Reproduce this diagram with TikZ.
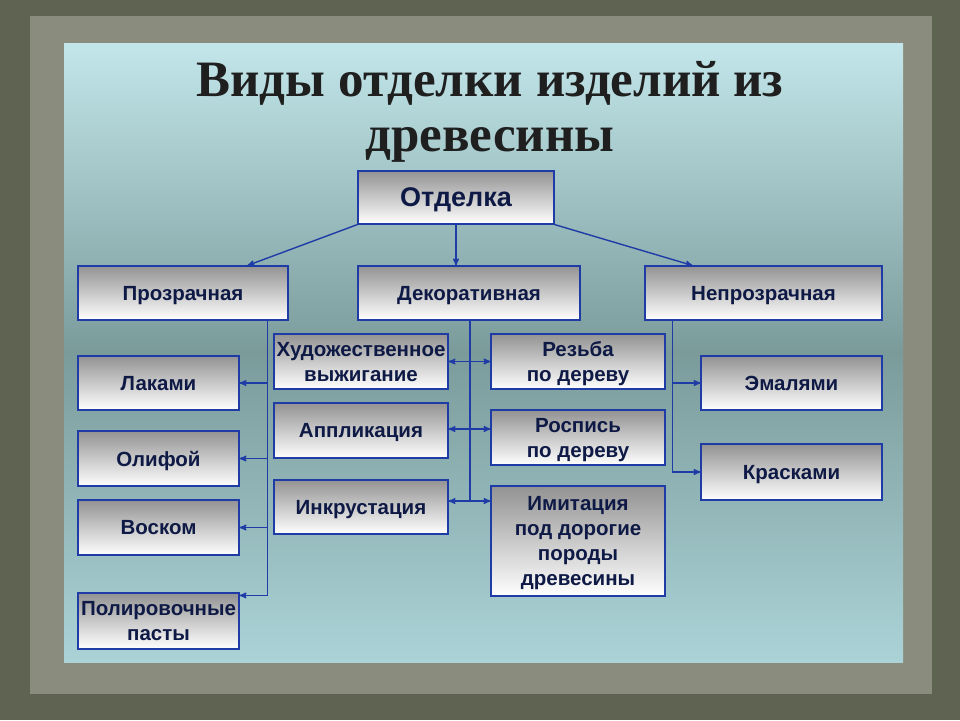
\documentclass[tikz,border=0pt]{standalone}
\usepackage{fontspec}
\setmainfont{Liberation Sans}
\newfontfamily\titlefont{Liberation Serif}
\usetikzlibrary{arrows, positioning}

\definecolor{frameout}{HTML}{5F6452}
\definecolor{framein}{HTML}{8A8C7D}
\definecolor{paneltop}{HTML}{C2E6EA}
\definecolor{panelmid}{HTML}{7B9B9B}
\definecolor{panelbot}{HTML}{ABD3D7}
\definecolor{linkblue}{HTML}{1F3CA6}
\definecolor{textnavy}{HTML}{0E1A45}

\begin{document}
\begin{tikzpicture}[x=1pt,y=-1pt,>=stealth',
  box/.style={draw=linkblue, line width=1.1pt, top color=gray!85, bottom color=white,
    text=textnavy, font=\bfseries\fontsize{20.5}{25}\selectfont, align=center,
    inner sep=0pt, text depth=0pt},
  link/.style={draw=linkblue, line width=1.4pt}]

% background frame and panel
  \fill[frameout] (0,0) rectangle (960,720);
  \fill[framein] (30,16) rectangle (932,694);
  \shade[top color=paneltop, bottom color=panelbot, middle color=panelmid]
    (64,43) rectangle (903,662);
  \useasboundingbox (0,0) rectangle (960,720);

% title
  \node[font=\titlefont\bfseries\fontsize{51}{55}\selectfont, text=black!88, align=center]
    (title) at (490,112) {Виды отделки изделий из\\древесины};

% define the boxes
  \node[box, minimum width=196pt, minimum height=53pt,
    font=\bfseries\fontsize{27}{30}\selectfont] (otd) at (456,197.5) {Отделка};
  \node[box, minimum width=210pt, minimum height=54pt] (prz) at (183,293) {Прозрачная};
  \node[box, minimum width=222pt, minimum height=54pt] (dek) at (469,293) {Декоративная};
  \node[box, minimum width=237pt, minimum height=54pt] (nep) at (763.5,293) {Непрозрачная};

  \node[box, minimum width=161pt, minimum height=54pt] (lak) at (158.5,383) {Лаками};
  \node[box, minimum width=161pt, minimum height=55pt] (oli) at (158.5,458.5) {Олифой};
  \node[box, minimum width=161pt, minimum height=55pt] (vos) at (158.5,527.5) {Воском};
  \node[box, minimum width=161pt, minimum height=56pt] (pol) at (158.5,621) {Полировочные\\пасты};

  \node[box, minimum width=174pt, minimum height=55pt] (hud) at (361,361.5) {Художественное\\выжигание};
  \node[box, minimum width=174pt, minimum height=55pt] (apl) at (361,430.5) {Аппликация};
  \node[box, minimum width=174pt, minimum height=54pt] (ink) at (361,507) {Инкрустация};

  \node[box, minimum width=174pt, minimum height=55pt] (rez) at (578,361.5) {Резьба\\по дереву};
  \node[box, minimum width=174pt, minimum height=55pt] (ros) at (578,437.5) {Роспись\\по дереву};
  \node[box, minimum width=174pt, minimum height=110pt] (imi) at (578,541) {Имитация\\под дорогие\\породы\\древесины};

  \node[box, minimum width=181pt, minimum height=54pt] (ema) at (791.5,383) {Эмалями};
  \node[box, minimum width=181pt, minimum height=56pt] (kra) at (791.5,472) {Красками};

% define the links
  \draw[link,->] (otd.south west) -- ([xshift=-41pt]prz.north east);
  \draw[link,->] (otd.south) -- (otd.south |- dek.north);
  \draw[link,->] (otd.south east) -- ([xshift=48pt]nep.north west);

  \coordinate (lspine) at ([xshift=-21pt]prz.south east);
  \draw[link] (lspine) -- (lspine |- pol.north) -- ++(0,3);
  \draw[link,->] ([yshift=-3pt]lspine |- pol.north) -- ([yshift=-3pt]pol.north east);
  \foreach \b in {lak, oli, vos}
    \draw[link,->] (lspine |- \b.east) -- (\b.east);

  \coordinate (dspine) at ([xshift=1pt]dek.south);
  \draw[link] (dspine) -- ([yshift=6pt]dspine |- ink.east);
  \draw[link,<->] (hud.east) -- (rez.west);
  \draw[link,<->] ([yshift=1.5pt]apl.east) -- ([yshift=1.5pt]apl.east -| ros.west);
  \draw[link,<->] ([yshift=6pt]ink.east) -- ([yshift=6pt]ink.east -| imi.west);

  \coordinate (nspine) at ([xshift=28pt]nep.south west);
  \draw[link] (nspine) -- (nspine |- kra.west);
  \foreach \b in {ema, kra}
    \draw[link,->] (nspine |- \b.west) -- (\b.west);

\end{tikzpicture}
\end{document}
